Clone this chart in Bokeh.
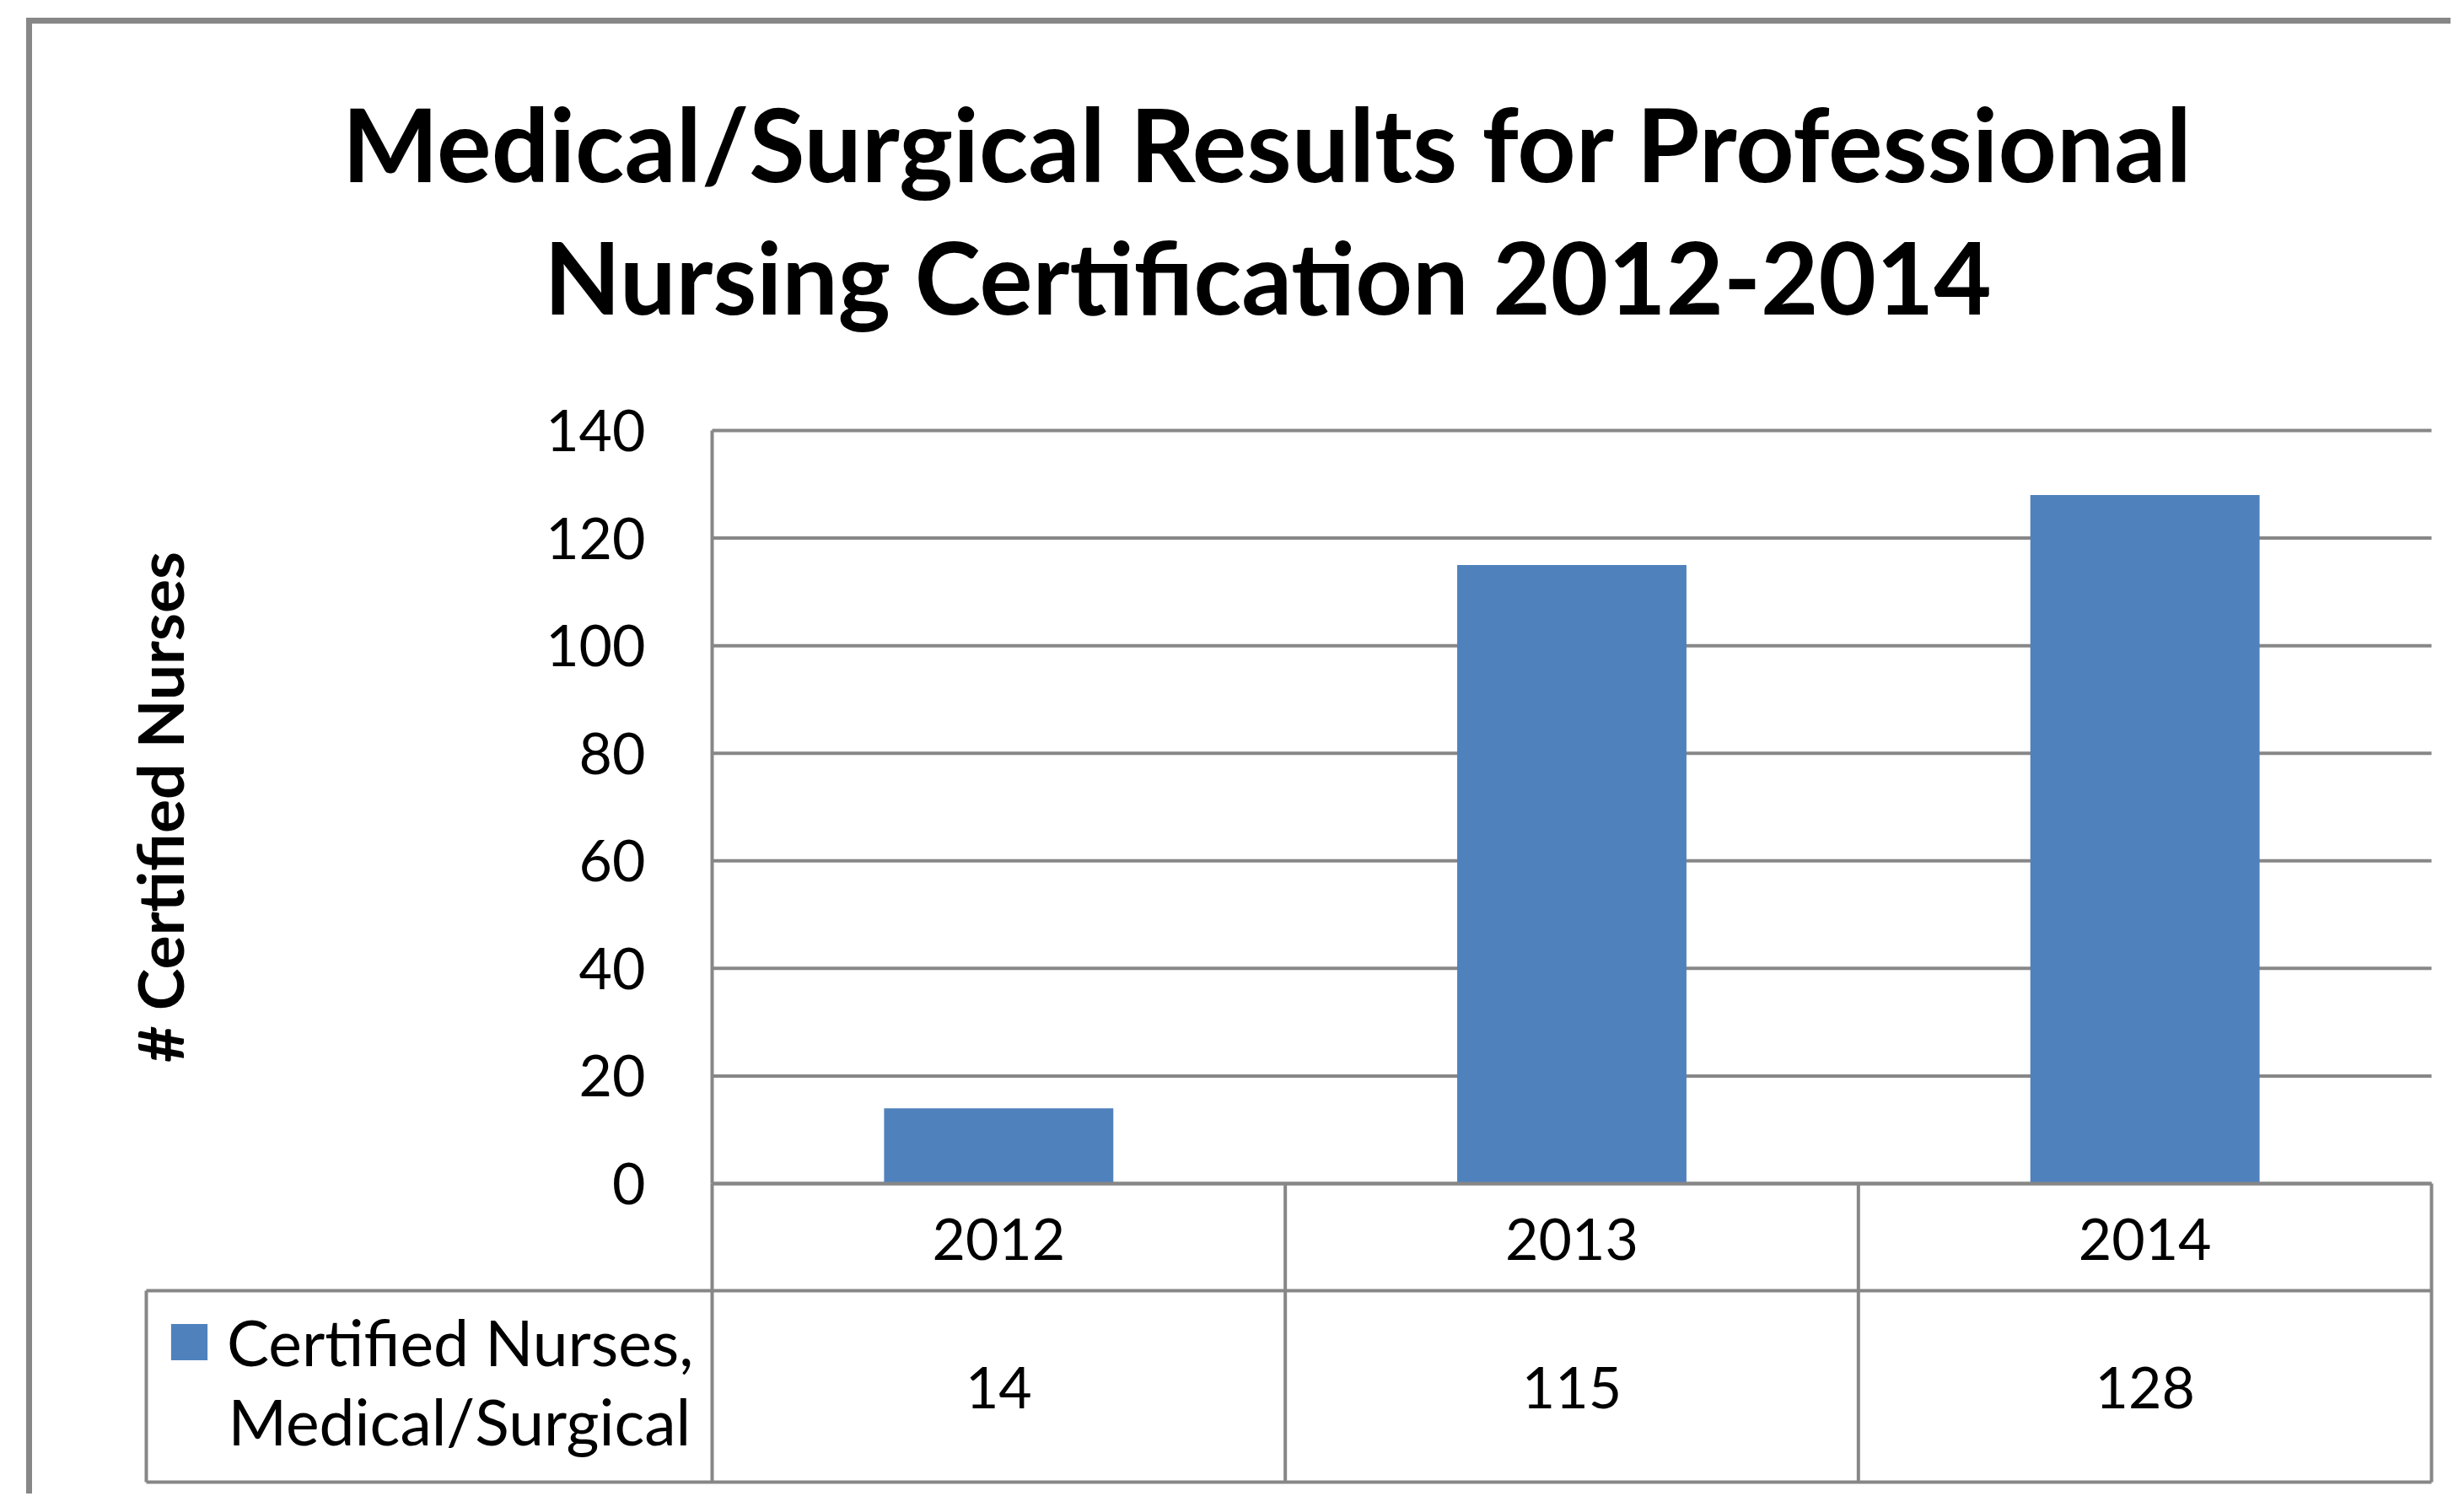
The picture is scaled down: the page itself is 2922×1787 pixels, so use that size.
from bokeh.plotting import figure
from bokeh.models import Range1d, FixedTicker, LinearAxis, Legend, LegendItem
from bokeh.core.properties import value
from bokeh.embed import file_html
from bokeh.resources import INLINE

# ---------------- data ----------------
years = ["2012", "2013", "2014"]
certified = [14, 115, 128]
y_ticks = [0, 20, 40, 60, 80, 100, 120, 140]
title_lines = ["Medical/Surgical Results for Professional",
               "Nursing Certification 2012-2014"]
y_label = "# Certified Nurses"
series_lines = ["Certified Nurses,", "Medical/Surgical"]

# ---------------- style / layout ----------------
BAR = "#4F81BD"
LINE = "#878787"
FONT = "Lato"
W, H = 2906, 1771
PLOT_L, PLOT_R = 844, 2883      # plot area in canvas px
PLOT_T, PLOT_B = 510, 1403
Y_MAX = y_ticks[-1]
n = len(years)
CW = (PLOT_R - PLOT_L) / n      # px per category
YS = (PLOT_B - PLOT_T) / Y_MAX  # px per unit
BASE_SHIFT = 0.375              # alphabetic-baseline correction (fraction of font size)

TITLE_PX = [121, 118]
TICK_PX, LEG_PX = 68, 75


def dx(px):
    return (px - PLOT_L) / CW


def dy(py):
    return (PLOT_B - py) / YS


def dy_base(py, size):
    return dy(py - BASE_SHIFT * size)


xpos = [i + 0.5 for i in range(n)]          # category centres
edges = list(range(n + 1))                   # category boundaries

p = figure(width=W, height=H, x_range=Range1d(dx(0), dx(W)), y_range=Range1d(dy(H), dy(0)),
           x_axis_location=None, y_axis_location=None, output_backend="svg",
           toolbar_location=None, min_border=0)
p.outline_line_color = None
p.background_fill_color = "white"
p.border_fill_color = "white"
p.grid.visible = False

# outer chart border
p.line(x=[dx(34), dx(34), dx(W + 40)], y=[dy(H + 40), dy(24), dy(24)],
       line_color=LINE, line_width=7, line_join="miter")

# gridlines
p.segment(x0=0, x1=n, y0=y_ticks, y1=y_ticks, line_color=LINE, line_width=4)

# bars
bars = p.vbar(x=xpos, top=certified, bottom=0, width=0.4, fill_color=BAR, line_color=None)

# y axis
yax = LinearAxis(fixed_location=0, bounds=(0, Y_MAX), ticker=FixedTicker(ticks=y_ticks))
yax.major_tick_out = 0
yax.major_tick_in = 0
yax.minor_tick_line_color = None
yax.axis_line_color = LINE
yax.axis_line_width = 4
yax.major_label_standoff = 79
yax.major_label_text_font = FONT
yax.major_label_text_font_size = f"{TICK_PX}px"
yax.major_label_text_color = "black"
yax.axis_label = y_label
yax.axis_label_text_font = FONT
yax.axis_label_text_font_style = "bold"
yax.axis_label_text_font_size = "75px"
yax.axis_label_text_color = "black"
yax.axis_label_standoff = 410
p.add_layout(yax, "left")

# x axis (category row of the data table)
xax = LinearAxis(fixed_location=0, bounds=(0, n), ticker=FixedTicker(ticks=xpos),
                 major_label_overrides={x: y for x, y in zip(xpos, years)})
xax.major_tick_out = 0
xax.major_tick_in = 0
xax.minor_tick_line_color = None
xax.axis_line_color = LINE
xax.axis_line_width = 4
xax.major_label_standoff = 41
xax.major_label_text_font = FONT
xax.major_label_text_font_size = f"{TICK_PX}px"
xax.major_label_text_color = "black"
p.add_layout(xax, "below")

# data table grid
row_mid, row_bot = dy(1530), dy(1757)
leg_left = dx(173)
p.segment(x0=edges, x1=edges, y0=0, y1=row_bot, line_color=LINE, line_width=4)
p.segment(x0=[leg_left, leg_left, leg_left], x1=[n, n, leg_left],
          y0=[row_mid, row_bot, row_mid], y1=[row_mid, row_bot, row_bot],
          line_color=LINE, line_width=4)

# value row
p.text(x=xpos, y=dy_base(1670, TICK_PX), text=[str(v) for v in certified],
       text_align="center", text_baseline="alphabetic", text_font=value(FONT),
       text_font_size=f"{TICK_PX}px", text_color="black")

# title (two centred lines)
for line_txt, base, size in zip(title_lines, [214, 371], TITLE_PX):
    p.text(x=[dx(1503)], y=[dy_base(base, size)], text=[line_txt],
           text_align="center", text_baseline="alphabetic", text_font=value(FONT),
           text_font_style="bold", text_font_size=f"{size}px", text_color="black")

# legend key (left cell of the data table): key + first line, then wrapped second line
leg = Legend(items=[LegendItem(label=series_lines[0], renderers=[bars])],
             location=(197, H - 1636), padding=0, margin=0, spacing=0,
             glyph_width=54, glyph_height=54, label_height=90, label_standoff=18,
             label_text_font=FONT, label_text_font_size=f"{LEG_PX}px",
             label_text_color="black", border_line_color=None, background_fill_alpha=0)
p.add_layout(leg)
p.text(x=dx(270), y=dy_base(1713, LEG_PX), text=[series_lines[1]], text_align="left",
       text_baseline="alphabetic", text_font=value(FONT), text_font_size=f"{LEG_PX}px",
       text_color="black")

open("out.html", "w").write(file_html(p, INLINE))
